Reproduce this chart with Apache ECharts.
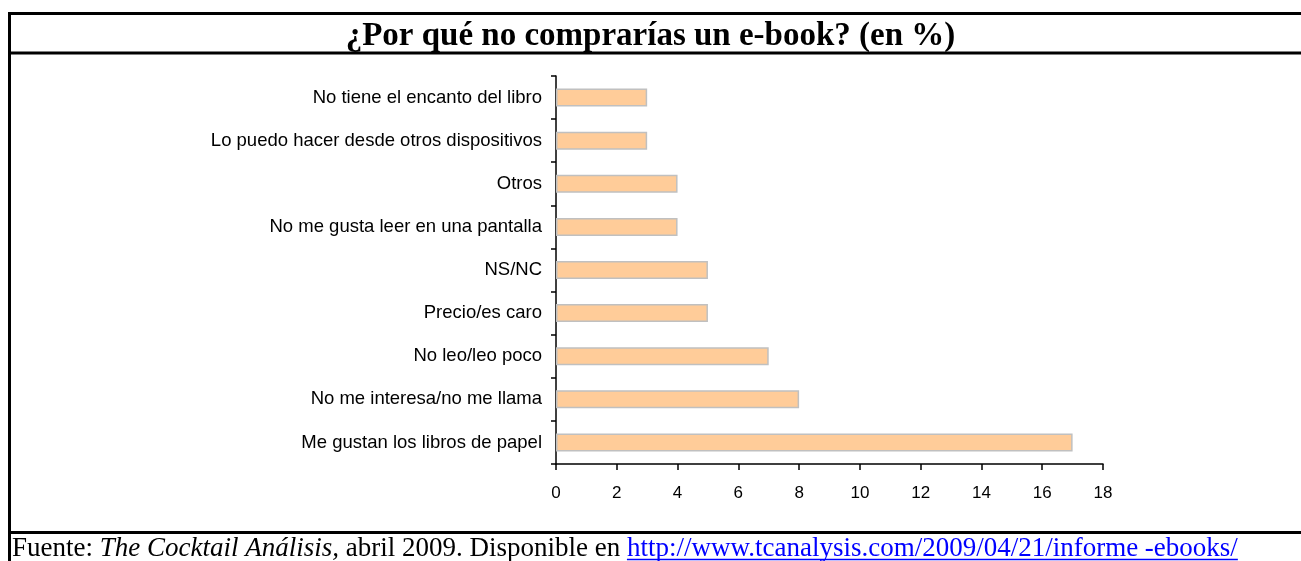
<!DOCTYPE html>
<html><head><meta charset="utf-8">
<script src="https://cdn.jsdelivr.net/npm/echarts@6/dist/echarts.min.js"></script>
<style>html,body{margin:0;padding:0;background:#fff}#c{width:1301px;height:561px}</style>
</head><body><div id="c"></div>
<script>
const categories = [
  "Me gustan los libros de papel",
  "No me interesa/no me llama",
  "No leo/leo poco",
  "Precio/es caro",
  "NS/NC",
  "No me gusta leer en una pantalla",
  "Otros",
  "Lo puedo hacer desde otros dispositivos",
  "No tiene el encanto del libro"
];
const values = [17, 8, 7, 5, 5, 4, 4, 3, 3];
const titleText = "¿Por qué no comprarías un e-book? (en %)";
const srcA = "Fuente: ";
const srcB = "The Cocktail Análisis,";
const srcC = " abril 2009. Disponible en ";
const srcLink = "http://www.tcanalysis.com/2009/04/21/informe -ebooks/";

const FN = 27;
const cv = document.createElement('canvas').getContext('2d');
function w(t, style) { cv.font = style + FN + 'px "Liberation Serif"'; return cv.measureText(t).width; }
const footLeft = 12;
const linkX = footLeft + w(srcA, '') + w(srcB, 'italic ') + w(srcC, '');
const linkW = w(srcLink, '');

const chart = echarts.init(document.getElementById('c'));
chart.setOption({
  animation: false,
  backgroundColor: '#fff',
  grid: { left: 556, top: 76, right: 198, bottom: 97, containLabel: false },
  title: {
    text: titleText, left: 'center', top: 15,
    textStyle: { fontFamily: 'Liberation Serif', fontWeight: 'bold', fontSize: 33, color: '#000' }
  },
  xAxis: {
    type: 'value', min: 0, max: 18, interval: 2,
    axisLine: { show: true, lineStyle: { color: '#000', width: 1.5 } },
    axisTick: { show: true, length: 6, lineStyle: { color: '#000', width: 1.5 } },
    axisLabel: { margin: 21, fontFamily: 'Liberation Sans', fontSize: 17, color: '#000' },
    splitLine: { show: false }
  },
  yAxis: {
    type: 'category', data: categories,
    axisLine: { show: true, lineStyle: { color: '#000', width: 1.5 } },
    axisTick: { show: true, length: 5, lineStyle: { color: '#000', width: 1.5 } },
    axisLabel: { margin: 14, fontFamily: 'Liberation Sans', fontSize: 18.5, color: '#000' }
  },
  series: [{
    type: 'bar', data: values, barWidth: 18,
    itemStyle: { color: '#FFCC99', borderColor: '#C0C0C0', borderWidth: 1.5 }
  }],
  graphic: [
    { type: 'line', shape: { x1: 8, y1: 13.5, x2: 1301, y2: 13.5 }, style: { stroke: '#000', lineWidth: 3 } },
    { type: 'line', shape: { x1: 9.5, y1: 12, x2: 9.5, y2: 561 }, style: { stroke: '#000', lineWidth: 3 } },
    { type: 'line', shape: { x1: 8, y1: 53, x2: 1301, y2: 53 }, style: { stroke: '#000', lineWidth: 3 } },
    { type: 'line', shape: { x1: 8, y1: 532.5, x2: 1301, y2: 532.5 }, style: { stroke: '#000', lineWidth: 3 } },
    { type: 'text', left: footLeft, top: 535, style: {
        text: '{n|' + srcA + '}{i|' + srcB + '}{n|' + srcC + '}{l|' + srcLink + '}',
        rich: {
          n: { fontFamily: 'Liberation Serif', fontSize: FN, fill: '#000' },
          i: { fontFamily: 'Liberation Serif', fontSize: FN, fontStyle: 'italic', fill: '#000' },
          l: { fontFamily: 'Liberation Serif', fontSize: FN, fill: '#0000FF' }
        }
    } },
    { type: 'line', shape: { x1: linkX, y1: 559.5, x2: linkX + linkW, y2: 559.5 }, style: { stroke: '#0000FF', lineWidth: 1.5 } }
  ]
});
</script></body></html>
